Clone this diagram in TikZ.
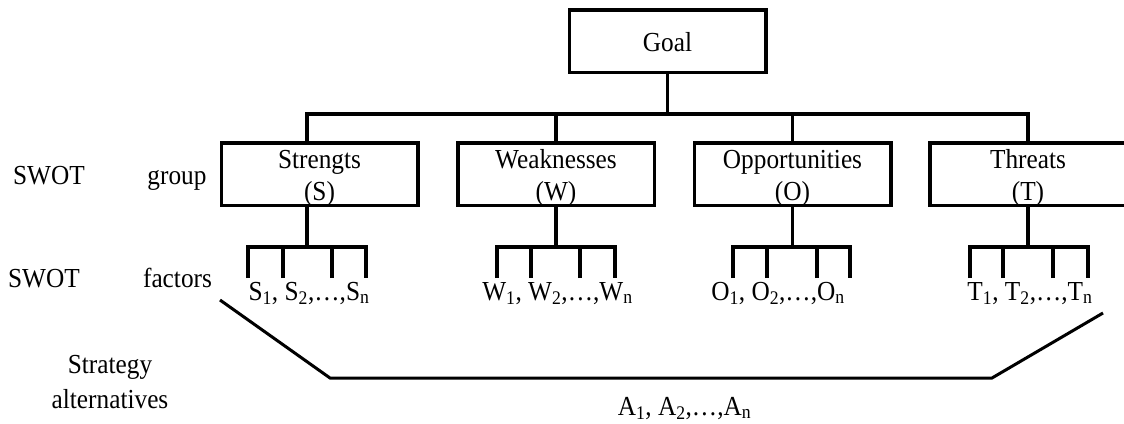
\documentclass[tikz,border=0pt]{standalone}
\usepackage{fontspec}
\setmainfont[FakeStretch=0.92]{Liberation Serif}
\newcommand\mysub[1]{\textsubscript{#1}}
% fork: name, junction x, four tick x positions
\newcommand\mkfork[6]{%
  \coordinate (#1j) at (#2,247);
  \coordinate (#1a) at (#3,278);
  \coordinate (#1b) at (#4,278);
  \coordinate (#1c) at (#5,278);
  \coordinate (#1d) at (#6,278);
  \draw[ln] (#1a) -- (#1a |- #1j) -- (#1d |- #1j) -- (#1d);
  \draw[ln] (#1b) -- (#1b |- #1j);
  \draw[ln] (#1c) -- (#1c |- #1j);
}
\begin{document}
\begin{tikzpicture}[x=1pt,y=-1pt,
  txt/.style={inner sep=0pt,font=\fontsize{27.5}{29}\selectfont},
  box/.style={draw,line width=3.5pt,inner sep=0pt,minimum width=196.5pt,minimum height=62.5pt},
  boxtxt/.style={inner sep=0pt,align=center,font=\fontsize{27.5}{32}\selectfont},
  ln/.style={line width=3.5pt},
  sline/.style={line width=3pt},
]
\useasboundingbox (0,0) rectangle (1124,423);
\clip (0,0) rectangle (1124,423);

% boxes
\node[box] (goal) at (667.5,41) {};
\node[box] (S) at (319.5,174) {};
\node[box] (W) at (556,174) {};
\node[box] (O) at (792.5,174) {};
\node[box] (T) at (1028,174) {};
\node[boxtxt] (goalt) at ([yshift=-1pt]goal.center) {Goal};
\node[boxtxt] (St) at ([yshift=-4pt]S.center) {Strengts\\(S)};
\node[boxtxt] (Wt) at ([yshift=-4pt]W.center) {Weaknesses\\(W)};
\node[boxtxt] (Ot) at ([yshift=-4pt]O.center) {Opportunities\\(O)};
\node[boxtxt] (Tt) at ([yshift=-4pt]T.center) {Threats\\(T)};

% top bus
\coordinate (bS) at (307,114);
\coordinate (bT) at (T.north |- bS);
\draw[ln] (S.north -| bS) -- (bS) -- (bT) -- (T.north);
\draw[ln] (goal.south) -- (goal.south |- bS);
\draw[ln] (W.north) -- (W.north |- bS);
\draw[ln] (O.north) -- (O.north |- bS);

% forks
\mkfork{Sk}{307}{248}{283}{332}{366}
\draw[ln] (S.south -| Skj) -- (Skj);
\mkfork{Wk}{556}{497}{531}{580}{615}
\draw[ln] (W.south) -- (Wkj);
\mkfork{Ok}{792.5}{733}{767}{817}{850}
\draw[ln] (O.south) -- (Okj);
\mkfork{Tk}{1028}{970}{1003}{1053}{1088}
\draw[ln] (T.south) -- (Tkj);

% factor labels
\node[txt,anchor=base] (Sf) at (309,300) {S\mysub{1}, S\mysub{2},\ldots,S\mysub{n}};
\node[txt,anchor=base] (Wf) at (557.5,300) {W\mysub{1}, W\mysub{2},\ldots,W\mysub{n}};
\node[txt,anchor=base] (Of) at (778,300) {O\mysub{1}, O\mysub{2},\ldots,O\mysub{n}};
\node[txt,anchor=base] (Tf) at (1030,300) {T\mysub{1}, T\mysub{2},\ldots,T\mysub{n}};

% left labels
\node[txt,anchor=base] (swot1) at (49,184) {SWOT};
\node[txt,anchor=base] (grp) at (177,184) {group};
\node[txt,anchor=base] (swot2) at (44,287) {SWOT};
\node[txt,anchor=base] (fac) at (177.5,287) {factors};
\node[txt,anchor=base] (strat1) at (110,373) {Strategy};
\node[txt,anchor=base] (strat2) at (110,408) {alternatives};

% strategy line
\coordinate (st1) at (220,300);
\coordinate (st2) at (330,378);
\coordinate (st3) at (992,378);
\coordinate (st4) at (1103,313);
\draw[sline] (st1) -- (st2) -- (st3) -- (st4);
\node[txt,anchor=base] (A) at (684.5,415) {A\mysub{1}, A\mysub{2},\ldots,A\mysub{n}};
\end{tikzpicture}
\end{document}
